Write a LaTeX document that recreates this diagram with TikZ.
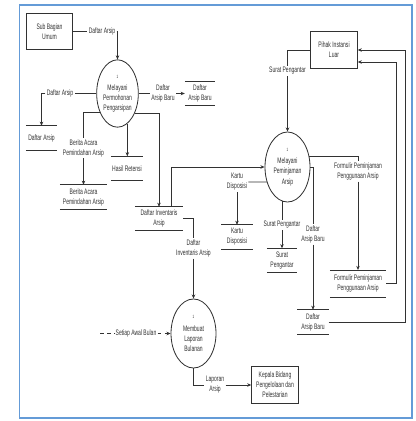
\documentclass[tikz,border=0pt]{standalone}
\usepackage{fontspec}
\setmainfont{Liberation Sans}[FakeStretch=0.63]
\usetikzlibrary{shapes.geometric,arrows.meta}
\definecolor{frameblue}{RGB}{100,155,215}
\definecolor{linegray}{RGB}{50,50,50}
\newcommand{\procno}{{\fontsize{4}{5}\selectfont 1}}
\tikzset{
  every node/.style={font=\fontsize{6.8}{8.6}\selectfont, text=linegray},
  conn/.style={draw=linegray, line width=0.6pt},
  proc/.style={ellipse, draw=linegray, line width=0.7pt, minimum width=1.25cm,
    minimum height=2.02cm, inner sep=0pt, align=center},
  ext/.style={rectangle, draw=linegray, line width=0.7pt, minimum width=1.4cm,
    minimum height=1.1cm, align=center},
  store/.style={minimum height=0.72cm, inner sep=1pt, align=center,
    append after command={(\tikzlastnode.north west) edge[conn] (\tikzlastnode.north east)
      (\tikzlastnode.south west) edge[conn] (\tikzlastnode.south east)}},
  lbl/.style={inner sep=1pt, align=center}
}
\begin{document}
\begin{tikzpicture}[x=0.03cm, y=-0.03cm, >={Stealth[length=3.5pt,width=3pt]}]
    \useasboundingbox (0,0) rectangle (415,421);
    \draw[frameblue, line width=1.4pt] (19.5,5) rectangle (412,418);

    \node[ext] (sbu) at (49.5,31.5) {Sub Bagian\\Umum};
    \node[ext] (pil) at (334,50) {Pihak Instansi\\Luar};
    \node[ext, minimum height=1.12cm] (kep) at (275,385) {Kepala Bidang\\Pengelolaan dan\\Pelestarian};

    \node[proc] (p1) at (117.5,93.5) {\procno\\[2pt]Melayani\\Permohonan\\Pengarsipan};
    \node[proc, minimum width=1.35cm, minimum height=2.1cm] (p2) at (287.5,167) {\procno\\[2pt]Melayani\\Peminjaman\\Arsip};
    \node[proc, minimum width=1.35cm, minimum height=2.07cm] (p3) at (193.5,333.5) {\procno\\[2pt]Membuat\\Laporan\\Bulanan};

    \node[store, minimum width=0.93cm] (s1) at (41.5,138) {Daftar Arsip};
    \node[store, minimum width=0.9cm] (s2) at (200,93.5) {Daftar\\Arsip Baru};
    \node[store, minimum width=1.41cm] (s3) at (83.5,197) {Berita Acara\\Pemindahan Arsip};
    \node[store, minimum width=0.93cm] (s4) at (127,168.5) {Hasil Retensi};
    \node[store, minimum width=1.44cm, minimum height=0.69cm] (s5) at (159,218.5) {Daftar Inventaris\\Arsip};
    \node[store, minimum width=0.93cm] (s6) at (237,237) {Kartu\\Disposisi};
    \node[store, minimum width=0.9cm] (s7) at (282,260.5) {Surat\\Pengantar};
    \node[store, minimum width=0.93cm] (s8) at (313,322) {Daftar\\Arsip Baru};
    \node[store, minimum width=1.68cm, minimum height=0.8cm] (s9) at (358,283.5) {Formulir Peminjaman\\Penggunaan Arsip};

    \node[lbl] (l1) at (102,31.5) {Daftar Arsip};
    \node[lbl] (l2) at (60,93.5) {Daftar Arsip};
    \node[lbl] (l3) at (163,93.5) {Daftar\\Arsip Baru};
    \node[lbl] (l4) at (83.5,148) {Berita Acara\\Pemindahan Arsip};
    \node[lbl] (l6) at (193.5,248.5) {Daftar\\Inventaris Arsip};
    \node[lbl] (l7) at (136,333.5) {Setiap Awal Bulan};
    \node[lbl] (l8) at (215,385) {Laporan\\Arsip};
    \node[lbl] (l9) at (287.5,71) {Surat Pengantar};
    \node[lbl] (l10) at (237,182) {Kartu\\Disposisi};
    \node[lbl] (l11) at (282,225) {Surat Pengantar};
    \node[lbl] (l12) at (313,234.5) {Daftar\\Arsip Baru};
    \node[lbl] (l13) at (358,171.5) {Formulir Peminjaman\\Penggunaan Arsip};

    \coordinate (st) at (100,333.5);
    \coordinate (c1) at (405,50);
    \coordinate (c2) at (396,62);

    \draw[conn] (sbu) -- (l1);
    \draw[conn,->] (l1) -| (p1);
    \draw[conn] (p1) -- (l2);
    \draw[conn,->] (l2) -| (s1);
    \draw[conn] (p1) -- (l3);
    \draw[conn,->] (l3) -- (s2);
    \draw[conn] (p1.226) -| (l4);
    \draw[conn,->] (l4) -- (s3);
    \draw[conn,->] (p1.-72) -- (p1.-72 |- s4.north);
    \draw[conn,->] (p1.-48) -| (s5);
    \draw[conn,->] ([xshift=0.36cm]s5.north) |- (p2);
    \draw[conn] (s5) -| (l6);
    \draw[conn,->] (l6) -- (p3);
    \draw[conn,dashed] (st) -- (l7);
    \draw[conn,dashed,->] (l7) -- (p3);
    \draw[conn] (p3) |- (l8);
    \draw[conn,->] (l8) -- (kep);
    \draw[conn] (pil) -| (l9);
    \draw[conn,->] (l9) -- (p2);
    \draw[conn] (p2.216) -- (l10);
    \draw[conn,->] (l10) -- (s6);
    \draw[conn] (p2.-99) -- (p2.-99 |- l11.north);
    \draw[conn,->] (l11) -- (s7);
    \draw[conn] (p2) -| (l12);
    \draw[conn,->] (l12) -- (s8);
    \draw[conn] (p2.25) -| (l13);
    \draw[conn,->] (l13) -- (s9);
    \draw[conn,->] (s8) -| (c1) -- (pil.east);
    \draw[conn,->] (s9) -| (c2) -- (pil.east |- c2);
\end{tikzpicture}
\end{document}
